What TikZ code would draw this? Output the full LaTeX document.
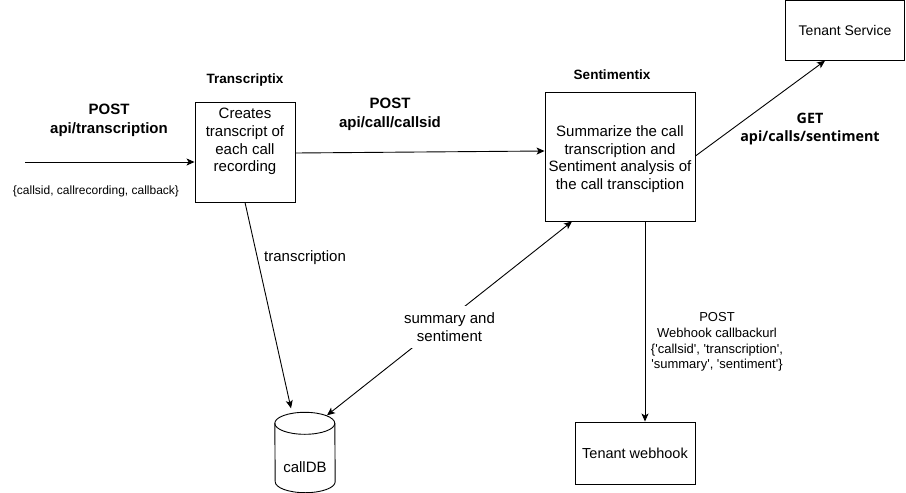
\documentclass[tikz,border=0pt]{standalone}
\usepackage{fontspec}
\setmainfont{Liberation Sans}
\newfontfamily\getfont{Open Sans}
\usetikzlibrary{arrows.meta,calc}
\begin{document}
\begin{tikzpicture}[x=1pt,y=-1pt,
  box/.style={draw, line width=0.9pt, inner sep=0pt},
  conn/.style={line width=0.9pt, -{Stealth[length=8pt,width=7pt,inset=2pt]}},
  txt/.style={inner sep=0pt, align=center, font=\fontsize{15}{17.7}\selectfont},
  btxt/.style={inner sep=0pt, align=center, font=\fontsize{15}{18.7}\selectfont\bfseries},
  ttl/.style={inner sep=0pt, font=\fontsize{13.5}{16}\selectfont\bfseries},
  small/.style={inner sep=0pt, align=center, font=\fontsize{12}{14}\selectfont},
  hook/.style={inner sep=0pt, align=center, font=\fontsize{13}{15.7}\selectfont},
  gettxt/.style={inner sep=0pt, align=center, font=\fontsize{14.3}{18}\selectfont\getfont\bfseries}
]
\useasboundingbox (0,0) rectangle (906,493);
\fill[white] (0,0) rectangle (906,493);

% boxes
\node[box, minimum width=100pt, minimum height=100pt] (t) at (245,152) {};
\node[txt] (ttext) at (245,141.5) {Creates\\transcript of\\each call\\recording};
\node[ttl] (tlabel) at (245,80) {Transcriptix};

\node[box, minimum width=150pt, minimum height=129pt] (s) at (620,156.5) {};
\node[txt] (stext) at (620,159) {Summarize the call\\transcription and\\Sentiment analysis of\\the call transciption};
\node[ttl] (slabel) at (612,75) {Sentimentix};

\node[box, minimum width=119pt, minimum height=59.5pt, font=\fontsize{14}{16}\selectfont] (ts) at (845,30.5) {Tenant Service};
\node[box, minimum width=120pt, minimum height=62pt, font=\fontsize{14.5}{17}\selectfont] (tw) at (635,453) {Tenant webhook};

% cylinder
\node[minimum width=60pt, minimum height=80pt, inner sep=0pt] (db) at (305,452.5) {};
\draw[line width=0.9pt]
  ($(db.north west)+(0,11)$) arc[start angle=180, end angle=0, x radius=30pt, y radius=11pt]
  -- ($(db.south east)+(0,-11)$) arc[start angle=0, end angle=-180, x radius=30pt, y radius=11pt]
  -- cycle;
\draw[line width=0.9pt] ($(db.north west)+(0,11)$) arc[start angle=180, end angle=360, x radius=30pt, y radius=11pt];
\node[txt] (dbtext) at (305,467) {callDB};

% incoming
\coordinate (in) at (25,162);
\draw[conn] (in) -- ([yshift=-10pt]t.west);
\node[btxt] (inlabel) at (109,120.5) {POST\\api/transcription};
\node[small] (inbody) at (96,191) {\{callsid, callrecording, callback\}};

% transcriptix -> sentimentix
\draw[conn] ([yshift=-1pt]t.east) -- ([yshift=5.5pt]s.west);
\node[btxt] (postlabel) at (390,114) {POST\\api/call/callsid};

% sentimentix -> tenant service
\draw[conn] ([yshift=0.5pt]s.east) -- ([xshift=-20pt]ts.south);
\node[gettxt] (getlabel) at (810,129.5) {GET\\api/calls/sentiment};

% sentimentix -> webhook
\coordinate (hs) at ([xshift=25pt]s.south);
\draw[conn] (hs) -- (hs |- tw.north);
\node[hook] (hooklabel) at (717,342) {POST\\Webhook callbackurl\\\{\textquotesingle callsid\textquotesingle, \textquotesingle transcription\textquotesingle,\\ \textquotesingle summary\textquotesingle, \textquotesingle sentiment\textquotesingle\}};

% transcription -> db
\draw[conn] (t.south) -- ([xshift=-14pt,yshift=4pt]db.north);
\node[txt, anchor=west] (trlabel) at (264,258) {transcription};

% bidirectional
\draw[line width=0.9pt, {Stealth[length=8pt,width=7pt,inset=2pt]}-{Stealth[length=8pt,width=7pt,inset=2pt]}]
  ([xshift=22pt,yshift=-3pt]db.north) -- node[txt, fill=white, inner xsep=3pt, inner ysep=7pt, yshift=-8.5pt] (sslabel) {summary and\\sentiment} ([xshift=-48pt]s.south);
\end{tikzpicture}
\end{document}
